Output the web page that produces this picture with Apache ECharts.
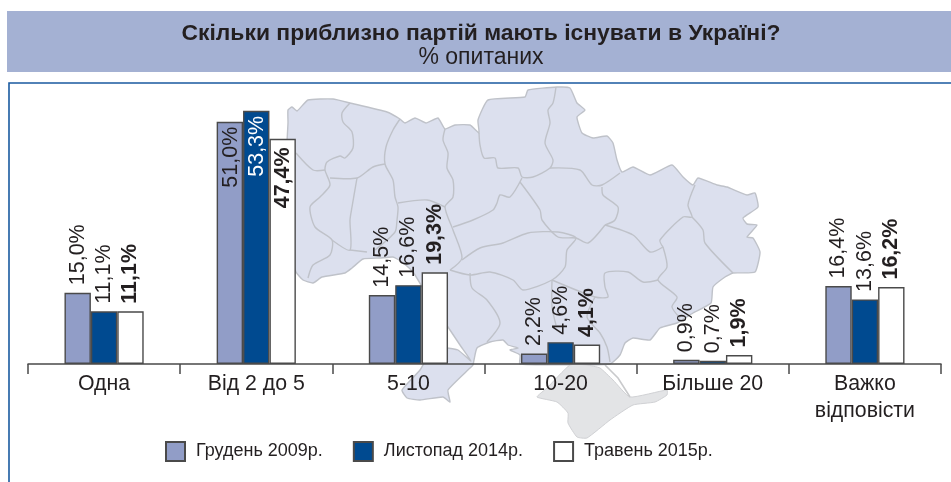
<!DOCTYPE html>
<html>
<head>
<meta charset="utf-8">
<style>html,body{margin:0;padding:0;background:#fff}#c{width:951px;height:482px}</style>
<script src="https://cdn.jsdelivr.net/npm/echarts@6/dist/echarts.min.js"></script>
</head>
<body>
<div id="c"></div>
<script>
const titleText = 'Скільки приблизно партій мають існувати в Україні?';
const subtitleText = '% опитаних';
const categories = ['Одна', 'Від 2 до 5', '5-10', '10-20', 'Більше 20', 'Важко\nвідповісти'];
const seriesNames = ['Грудень 2009р.', 'Листопад 2014р.', 'Травень 2015р.'];
const dec2009 = [15.0, 51.0, 14.5, 2.2, 0.9, 16.4];
const nov2014 = [11.1, 53.3, 16.6, 4.6, 0.7, 13.6];
const may2015 = [11.1, 47.4, 19.3, 4.1, 1.9, 16.2];

// Decorative background map, traced as pixels
const mapOutline = [[288,110],[292,107],[297,111],[308,100],[333,99],[350,103],[387,112],[400,119],[405,123],[415,118],[426,123],[438,118],[445,129],[455,125],[470,125],[479,133],[478,120],[488,100],[525,97],[528,90],[557,87],[570,88],[577,103],[585,110],[577,117],[582,133],[593,138],[607,136],[613,143],[617,160],[622,172],[633,167],[650,175],[672,165],[683,177],[693,185],[698,178],[717,185],[727,187],[747,195],[755,193],[758,207],[743,218],[747,224],[757,225],[747,237],[753,238],[760,252],[755,272],[733,273],[725,277],[713,287],[711,303],[693,313],[677,323],[660,328],[650,340],[633,338],[625,343],[620,355],[610,364],[520,364],[520,355],[510,350],[518,348],[508,345],[503,340],[490,342],[477,348],[474,360],[473,365],[470,368],[448,390],[450,402],[443,397],[420,400],[407,398],[402,390],[420,370],[432,350],[447,348],[458,350],[471,361],[460,345],[448,327],[430,300],[413,272],[402,262],[393,257],[380,258],[363,259],[352,268],[345,273],[322,277],[313,283],[303,280],[296,272],[285,240],[285,180],[288,123]];
const crimeaOutline = [[537,397],[547,388],[570,365],[587,365],[600,368],[613,380],[630,397],[667,390],[667,395],[655,402],[633,405],[610,420],[587,438],[577,437],[568,423],[568,413],[557,402]];
const mapBorders = [
 [[350,103],[342,113],[343,122],[352,132],[353,148],[345,158],[340,156],[327,162],[325,170],[330,185],[320,197],[310,207],[315,227],[332,240],[330,255],[313,265],[308,278]],
 [[296,153],[313,170],[325,170]],
 [[330,178],[357,178],[373,167],[385,164]],
 [[400,119],[393,130],[386,147],[385,164],[393,180],[395,197],[398,207],[397,220],[395,232],[375,250]],
 [[398,203],[427,200],[445,207]],
 [[357,178],[352,207],[350,220],[350,250],[332,240]],
 [[350,250],[367,252]],
 [[445,129],[443,140],[448,153],[447,168],[453,180],[453,197],[445,207],[453,230],[462,258],[450,270]],
 [[453,227],[473,220],[493,210],[497,203],[500,195],[510,197],[522,178]],
 [[462,260],[480,248],[503,243],[528,233],[558,232],[576,238],[567,250],[565,267],[552,280],[523,290],[513,280],[490,272],[470,275],[450,270]],
 [[470,273],[472,288],[487,300],[500,323],[487,342]],
 [[556,87],[553,103],[548,110],[550,123],[545,143],[553,160],[550,168],[533,177],[522,177],[518,168],[498,168],[495,158],[484,158],[480,145],[479,133]],
 [[550,168],[580,170],[592,185],[602,185],[620,173]],
 [[602,187],[603,195],[618,207],[615,220],[605,225]],
 [[520,182],[540,210],[542,220],[558,237],[576,238],[588,243],[605,225]],
 [[605,225],[633,235],[650,252],[663,247]],
 [[663,247],[667,267],[658,280],[677,297],[672,307],[680,318]],
 [[658,280],[643,282],[628,272],[605,273],[605,287],[608,297],[595,297],[552,280]],
 [[595,297],[587,317],[600,333],[607,347],[610,362]],
 [[695,185],[688,205],[692,217],[683,217],[660,240],[663,247]],
 [[692,217],[703,230],[705,243],[733,273]],
 [[552,280],[552,307],[556,325]]
];
const arabatSpit = [[605,365],[618,378],[630,397]];

const TEXT = '#231f20', DARK = '#4a4a4a';
const FONT = '"Liberation Sans", Arial, sans-serif';
const fmt = v => v.toFixed(1).replace('.', ',') + '%';
const insideAbove = 40;

function makeSeries(name, values, color, labelColorInside, bold) {
  return {
    name, type: 'bar', barWidth: 26.4, barGap: 0,
    itemStyle: { color, borderColor: DARK, borderWidth: 1.4 },
    data: values.map(v => {
      const inside = v > insideAbove;
      return {
        value: v,
        label: inside
          ? { position: 'insideTop', align: 'right', verticalAlign: 'middle', offset: bold ? [-3.5, 0] : [0, 1], color: labelColorInside }
          : { position: 'top', align: 'left', verticalAlign: 'middle', offset: [2.5, 0], color: TEXT }
      };
    }),
    label: {
      show: true, rotate: 90, fontFamily: FONT, fontSize: 21.5,
      fontWeight: bold ? 'bold' : 'normal',
      formatter: p => fmt(p.value)
    }
  };
}

const graphics = [
  { type: 'rect', z: 0, silent: true, shape: { x: 7, y: 11, width: 944, height: 61 }, style: { fill: '#a4b1d3' } },
  { type: 'polyline', z: 0, silent: true, shape: { points: [[951,83],[9,83],[9,482]] }, style: { fill: null, stroke: '#1a5aa0', lineWidth: 1.6 } },
  { type: 'polygon', z: 0, silent: true, shape: { points: mapOutline, smooth: 0.15 }, style: { fill: '#dce0ee', stroke: '#bfc2c9', lineWidth: 1.4 } },
  { type: 'polygon', z: 0, silent: true, shape: { points: crimeaOutline, smooth: 0.15 }, style: { fill: '#e3e4e6', stroke: '#d0d1d4', lineWidth: 1 } },
  { type: 'polyline', z: 0, silent: true, shape: { points: arabatSpit }, style: { fill: null, stroke: '#c9cacc', lineWidth: 1.6 } }
].concat(mapBorders.map(points => ({
  type: 'polyline', z: 0, silent: true, shape: { points, smooth: 0.25 },
  style: { fill: null, stroke: '#bfc2c9', lineWidth: 1.4 }
})));

const chart = echarts.init(document.getElementById('c'), null, { renderer: 'canvas' });
chart.setOption({
  animation: false,
  backgroundColor: '#fff',
  graphic: { elements: graphics },
  title: [
    { text: titleText, left: 476, top: 17, textAlign: 'center', textStyle: { fontFamily: FONT, fontSize: 22.9, fontWeight: 'bold', color: TEXT } },
    { text: subtitleText, left: 476, top: 41, textAlign: 'center', textStyle: { fontFamily: FONT, fontSize: 23, fontWeight: 'normal', color: TEXT } }
  ],
  legend: {
    left: 160, top: 436, itemWidth: 19, itemHeight: 19, itemGap: 30, icon: 'rect',
    data: seriesNames, selectedMode: false,
    textStyle: { fontFamily: FONT, fontSize: 18, color: TEXT, padding: [0, 0, 0, 6] }
  },
  grid: { left: 28, right: 10, top: 79, bottom: 118 },
  xAxis: {
    type: 'category', data: categories,
    axisLine: { show: true, lineStyle: { color: DARK, width: 1.5 } },
    axisTick: { show: true, alignWithLabel: false, length: 10, lineStyle: { color: DARK, width: 1.5 } },
    axisLabel: { interval: 0, margin: 7, fontFamily: FONT, fontSize: 21.3, color: TEXT, lineHeight: 27, verticalAlign: 'top' }
  },
  yAxis: { type: 'value', min: 0, max: 60, show: false },
  series: [
    makeSeries(seriesNames[0], dec2009, '#919dc7', TEXT, false),
    makeSeries(seriesNames[1], nov2014, '#004a90', '#ffffff', false),
    makeSeries(seriesNames[2], may2015, '#ffffff', TEXT, true)
  ]
});
</script>
</body>
</html>
